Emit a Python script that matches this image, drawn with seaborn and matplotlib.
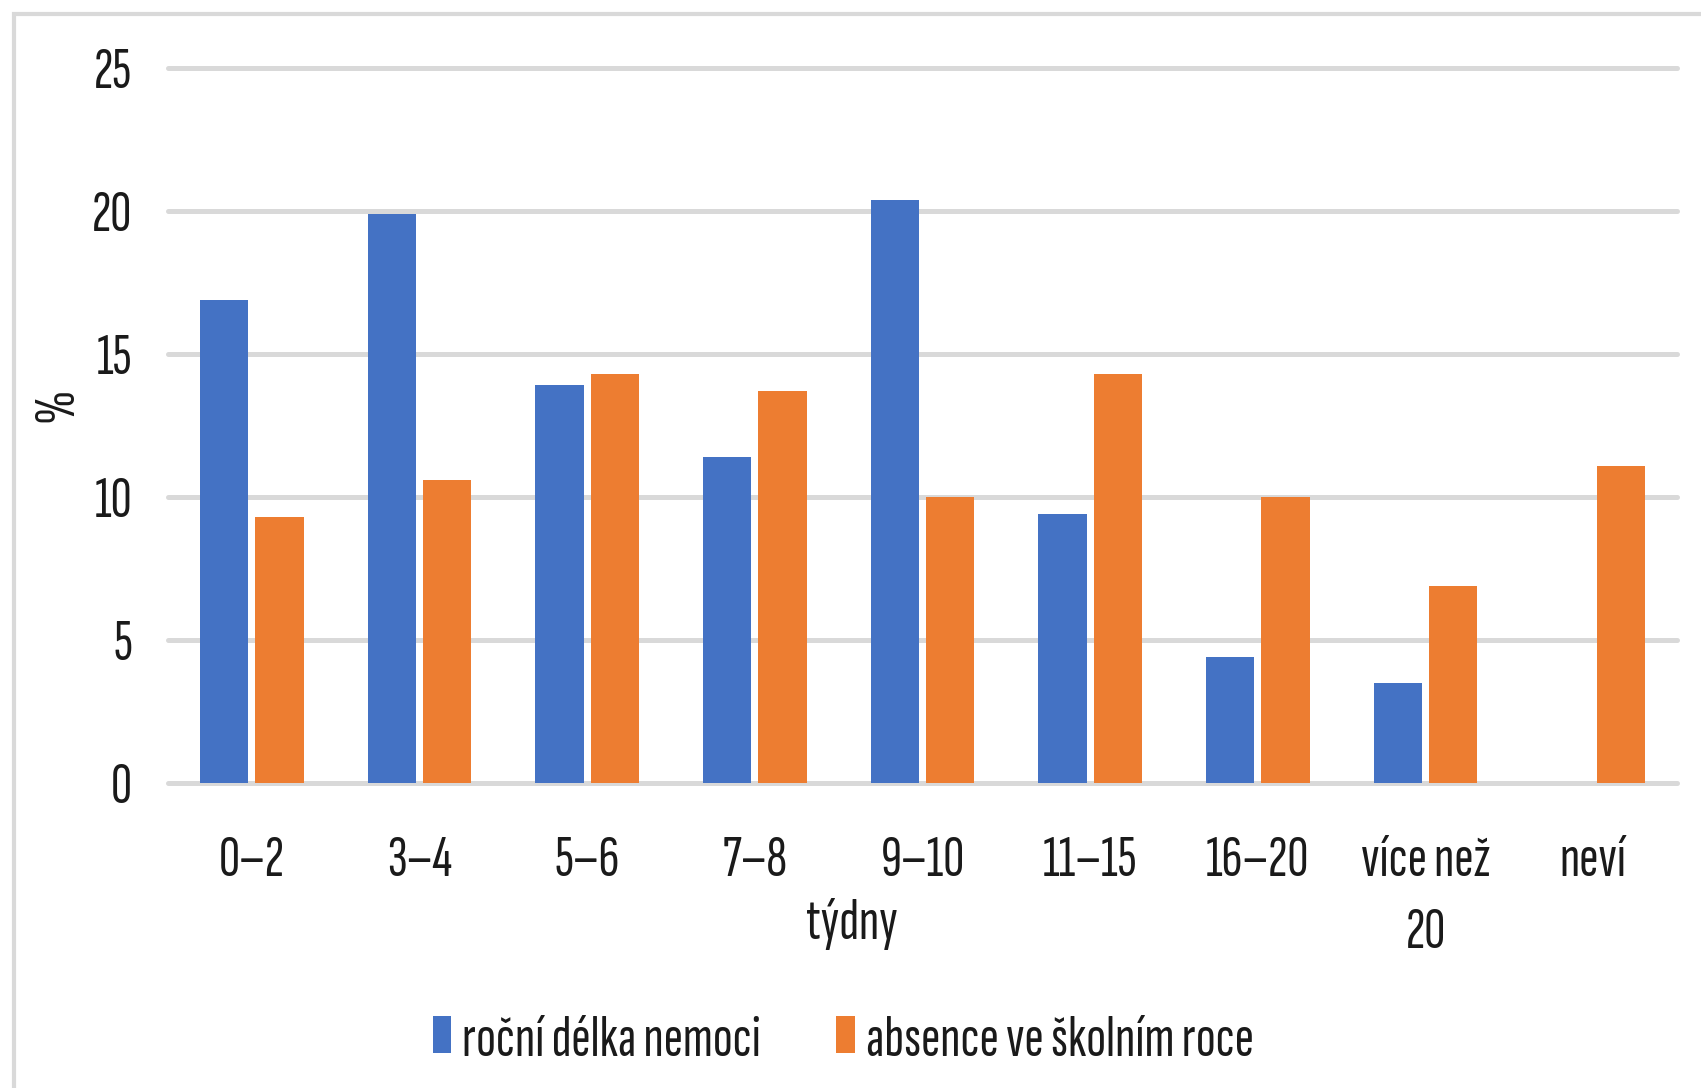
import pandas as pd
import seaborn as sns
import matplotlib.pyplot as plt
from matplotlib.patches import Rectangle

# data
categories = ["0–2", "3–4", "5–6", "7–8", "9–10", "11–15", "16–20", "více než\n20", "neví"]
nemoc = [16.9, 19.9, 13.9, 11.4, 20.4, 9.4, 4.4, 3.5, 0.0]
absence = [9.3, 10.6, 14.3, 13.7, 10.0, 14.3, 10.0, 6.9, 11.1]
series = ["roční délka nemoci", "absence ve školním roce"]
yticks = [0, 5, 10, 15, 20, 25]

df = pd.DataFrame({"kat": categories * 2,
                   "serie": [series[0]] * len(categories) + [series[1]] * len(categories),
                   "hodnota": nemoc + absence})

sns.set_theme(style="white")
plt.rcParams["font.family"] = ["Sofia Sans Extra Condensed", "Fira Sans Extra Condensed",
                               "DejaVu Sans"]
FS = 42
TXT = "#1a1a1a"

fig = plt.figure(figsize=(17.01, 10.88), dpi=100)
ax = fig.add_axes([168 / 1701, 1 - 783 / 1088, (1677 - 168) / 1701, (783 - 68) / 1088])

sns.barplot(data=df, x="kat", y="hodnota", hue="serie", order=categories, hue_order=series,
            palette=["#4472C4", "#ED7D31"], width=0.66, gap=0.13, linewidth=0,
            saturation=1, ax=ax, zorder=3)

ax.set_ylim(0, 25)
ax.set_xlim(-0.5, len(categories) - 0.5)
ax.set_yticks(yticks)
for y in yticks:
    ax.axhline(y, color="#d9d9d9", lw=3.6, zorder=0, clip_on=False)
for s in ax.spines.values():
    s.set_visible(False)
ax.tick_params(axis="both", length=0, labelsize=FS, colors=TXT)
ax.tick_params(axis="x", pad=38)
ax.tick_params(axis="y", pad=26)
for lbl in ax.get_xticklabels():
    lbl.set_linespacing(1.52)
    lbl.set_verticalalignment("top")
ax.set_xlabel("")
ax.set_ylabel("")
fig.text(58 / 1701, 1 - 405 / 1088, "%", rotation=90, fontsize=FS, ha="center", va="center",
         color=TXT)
fig.text(852 / 1701, 1 - 924 / 1088, "týdny", fontsize=FS, ha="center", va="center",
         color=TXT)

handles, labels = ax.get_legend_handles_labels()
ax.legend_.remove()
fig.legend(handles, labels, loc="center", bbox_to_anchor=(843 / 1701, 1 - 1041 / 1088),
           ncol=2, frameon=False, fontsize=FS, handlelength=0.32, handleheight=0.6,
           handletextpad=0.18, columnspacing=1.3, labelcolor=TXT)

# light grey chart frame (left and top visible)
fig.patches.append(Rectangle((13.5 / 1701, -0.1), 1.5, 1 - 13.5 / 1088 + 0.1,
                             transform=fig.transFigure, fill=False,
                             edgecolor="#d9d9d9", lw=3))

fig.savefig("out.png", dpi=100)
